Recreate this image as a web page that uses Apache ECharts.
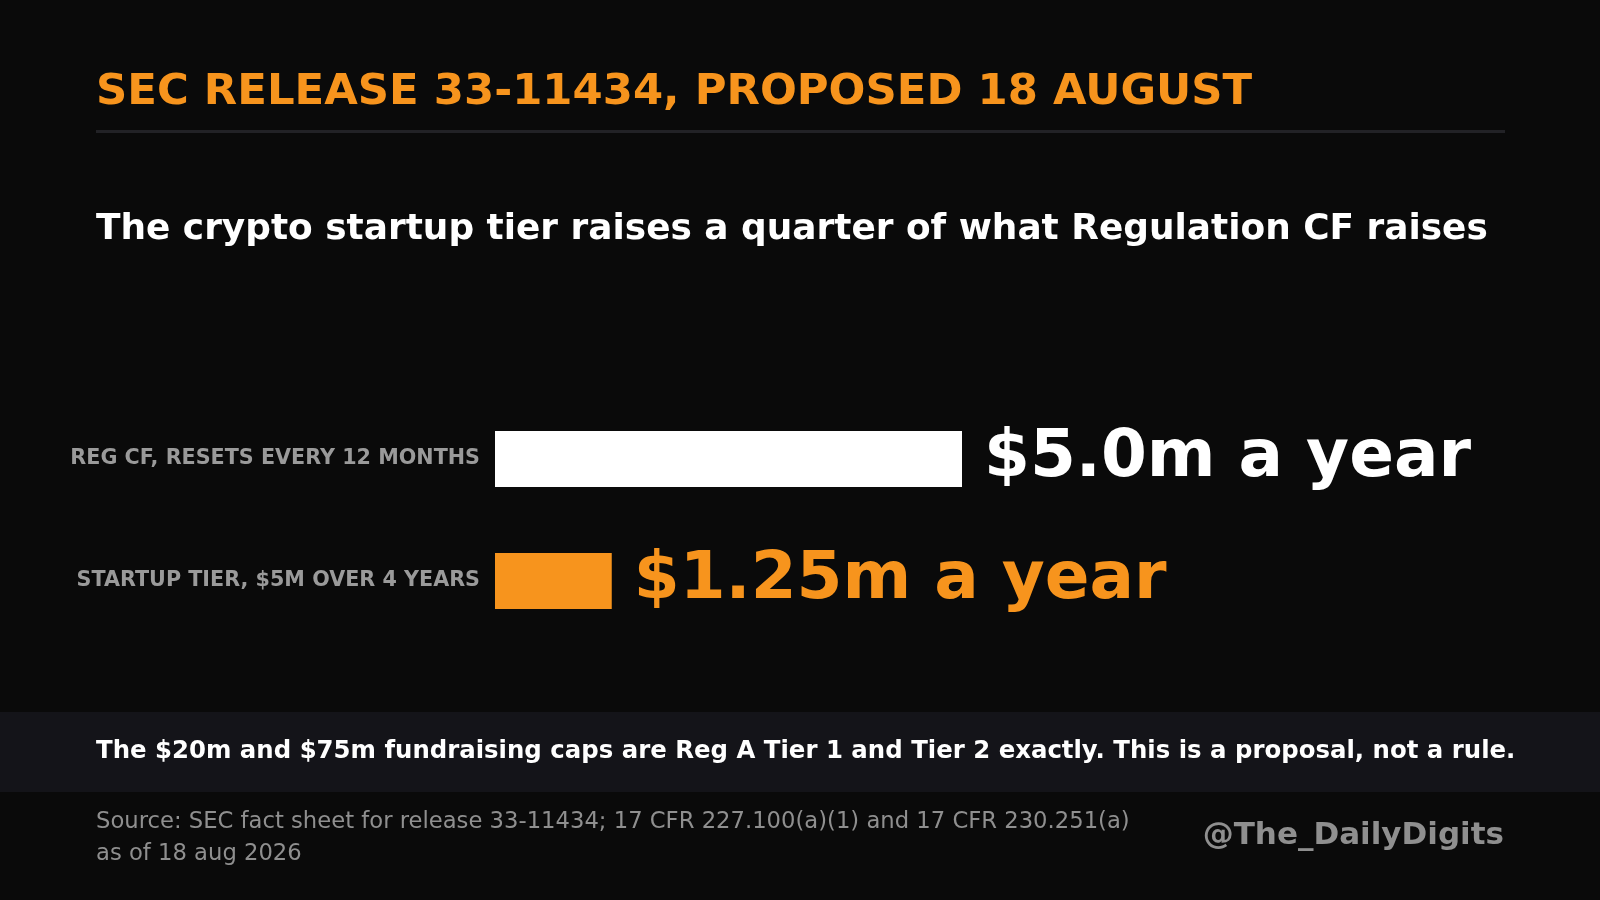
<!DOCTYPE html>
<html>
<head>
<meta charset="utf-8">
<script src="https://cdn.jsdelivr.net/npm/echarts@6/dist/echarts.min.js"></script>
<style>
  html, body { margin: 0; padding: 0; background: #0a0a0a; }
  #chart { width: 1600px; height: 900px; }
</style>
</head>
<body>
<div id="chart"></div>
<script>
// data
const categories = ['REG CF, RESETS EVERY 12 MONTHS', 'STARTUP TIER, $5M OVER 4 YEARS'];
const values = [5.0, 1.25];
const valueLabels = ['$5.0m a year', '$1.25m a year'];
const barColors = ['#ffffff', '#f7941d'];

const FONT = '"DejaVu Sans", sans-serif';
const ORANGE = '#f7941d';

const chart = echarts.init(document.getElementById('chart'));

chart.setOption({
  backgroundColor: '#0a0a0a',
  animation: false,
  grid: { left: 495, width: 934, top: 398, height: 244 },
  xAxis: {
    type: 'value',
    min: 0,
    max: 10,
    show: false,
  },
  yAxis: {
    type: 'category',
    data: categories,
    inverse: true,
    axisLine: { show: false },
    axisTick: { show: false },
    axisLabel: {
      margin: 15,
      color: '#9a9a9a',
      fontFamily: FONT,
      fontWeight: 'bold',
      fontSize: 20.7,
    },
  },
  series: [
    {
      type: 'bar',
      barWidth: 56,
      data: values.map((v, i) => ({
        value: v,
        itemStyle: { color: barColors[i] },
        label: { color: barColors[i] },
      })),
      label: {
        show: true,
        position: 'right',
        distance: 22,
        fontFamily: FONT,
        fontWeight: 'bold',
        fontSize: 66,
        formatter: (p) => valueLabels[p.dataIndex],
      },
    },
  ],
  graphic: [
    {
      type: 'text',
      left: 96,
      top: 71,
      style: {
        text: 'SEC RELEASE 33-11434, PROPOSED 18 AUGUST',
        fill: ORANGE,
        font: 'bold 43.4px ' + FONT,
      },
    },
    {
      type: 'rect',
      shape: { x: 96, y: 130, width: 1409, height: 3 },
      style: { fill: '#222226' },
    },
    {
      type: 'text',
      left: 96,
      top: 212,
      style: {
        text: 'The crypto startup tier raises a quarter of what Regulation CF raises',
        fill: '#ffffff',
        font: 'bold 35.9px ' + FONT,
      },
    },
    {
      type: 'rect',
      shape: { x: 0, y: 712, width: 1600, height: 80 },
      style: { fill: '#141419' },
    },
    {
      type: 'text',
      left: 96,
      top: 740,
      style: {
        text: 'The $20m and $75m fundraising caps are Reg A Tier 1 and Tier 2 exactly. This is a proposal, not a rule.',
        fill: '#ffffff',
        font: 'bold 24.4px ' + FONT,
      },
    },
    {
      type: 'text',
      left: 96,
      top: 806,
      style: {
        text: 'Source: SEC fact sheet for release 33-11434; 17 CFR 227.100(a)(1) and 17 CFR 230.251(a)\nas of 18 aug 2026',
        fill: '#8f8f8f',
        font: '22.7px ' + FONT,
        lineHeight: 32,
      },
    },
    {
      type: 'text',
      right: 96,
      top: 820,
      style: {
        text: '@The_DailyDigits',
        fill: '#8f8f8f',
        font: 'bold 31px ' + FONT,
      },
    },
  ],
});
</script>
</body>
</html>
